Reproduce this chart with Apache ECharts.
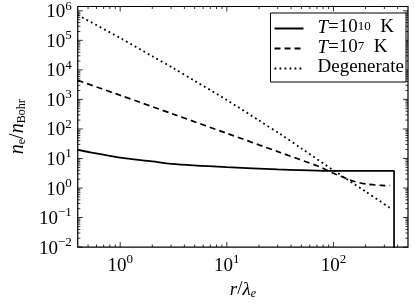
<!DOCTYPE html>
<html><head><meta charset="utf-8">
<script src="https://cdn.jsdelivr.net/npm/echarts@6/dist/echarts.min.js"></script>
<style>html,body{margin:0;padding:0;background:#fff}#c{width:415px;height:305px}</style>
</head><body><div id="c"></div>
<script>
// ---- data ----
const seriesNames = ['T=10^10 K', 'T=10^7 K', 'Degenerate'];
const rHot  = [0.4, 1, 2, 3, 10, 30, 70, 150, 370, 370];
const nHot  = [19.5, 10.7, 8.0, 6.6, 5.1, 4.3, 3.9, 3.8, 3.8, 0.0001];
const rWarm = [0.4, 1, 3.16, 10, 31.6, 74, 100, 128, 158, 208, 282, 340];
const nWarm = [4420, 1380, 316, 71, 16, 5.25, 3.16, 2.21, 1.66, 1.35, 1.23, 1.2];
const rDeg  = [0.4, 1, 2, 3.16, 5, 10, 20, 31.6, 50, 100, 200, 340];
const nDeg  = [7.2e5, 1.2e5, 2.9e4, 1.14e4, 4240, 955, 194, 67.6, 22, 4.0, 0.76, 0.21];
const xMajorTicks = [1, 10, 100];
const yMajorTicks = [0.01, 0.1, 1, 10, 100, 1e3, 1e4, 1e5, 1e6];
const minorMantissa = [2, 3, 4, 5, 6, 7, 8, 9];
const xDecades = [0.1, 1, 10, 100];
const yDecades = [0.01, 0.1, 1, 10, 100, 1e3, 1e4, 1e5, 1e6];
const xMin = 0.4, xMax = 500, yMin = 0.01, yMax = 1.4e6;

const FONT = 'Liberation Serif';
const zip = (a, b) => a.map((v, i) => [v, b[i]]);

const xMinorTicks = [], yMinorTicks = [];
xDecades.forEach(d => minorMantissa.forEach(m => { const v = d * m; if (v > xMin && v < xMax) xMinorTicks.push(v); }));
yDecades.forEach(d => minorMantissa.forEach(m => { const v = d * m; if (v > yMin && v < yMax) yMinorTicks.push(v); }));

function sup(v) {
  const e = Math.round(Math.log10(v));
  if (Math.abs(Math.log10(v) - e) > 1e-6) return '';
  return '{b|10}{s|' + (e < 0 ? '\u2212' + (-e) : e) + '}';
}
const tickRich = {
  b: {fontFamily: FONT, fontSize: 19, color: '#000', lineHeight: 22, verticalAlign: 'bottom'},
  s: {fontFamily: FONT, fontSize: 13, color: '#000', lineHeight: 12, verticalAlign: 'top'}
};
const legendLabels = {
  'T=10^10 K': '{i|T}{n|=10}{s|10}{n|  K}',
  'T=10^7 K': '{i|T}{n|=10}{s|7}{n|  K}',
  'Degenerate': '{n|Degenerate}'
};

function tickSeries(vals, side, major) {
  const len = major ? 5 : 2.6;
  let data, size, off;
  if (side === 'b') { data = vals.map(v => [v, yMin]); size = [1, len]; off = [0, -len / 2]; }
  if (side === 't') { data = vals.map(v => [v, yMax]); size = [1, len]; off = [0, len / 2]; }
  if (side === 'l') { data = vals.map(v => [xMin, v]); size = [len, 1]; off = [len / 2, 0]; }
  if (side === 'r') { data = vals.map(v => [xMax, v]); size = [len, 1]; off = [-len / 2, 0]; }
  return {type: 'scatter', name: 'ticks' + side + (major ? 'M' : 'm'), data: data, symbol: 'rect',
    symbolSize: size, symbolOffset: off, clip: false, itemStyle: {color: '#000'}};
}

const chart = echarts.init(document.getElementById('c'));
chart.setOption({
  animation: false,
  grid: {left: 68, right: 7, top: 5, bottom: 47, show: true, borderColor: '#000', borderWidth: 1.2, containLabel: false},
  xAxis: {
    type: 'log', logBase: 10, min: xMin, max: xMax,
    axisLine: {show: false}, axisTick: {show: false}, splitLine: {show: false},
    axisLabel: {formatter: sup, rich: tickRich, margin: 6, showMinLabel: false, showMaxLabel: false},
    name: '{i|r}{n|/}{i|\u03bb}{sub|e}', nameLocation: 'middle', nameGap: 29,
    nameTextStyle: {rich: {
      i: {fontFamily: FONT, fontStyle: 'italic', fontSize: 19, color: '#000', lineHeight: 20, verticalAlign: 'top'},
      n: {fontFamily: FONT, fontSize: 19, color: '#000', lineHeight: 20, verticalAlign: 'top'},
      sub: {fontFamily: FONT, fontStyle: 'italic', fontSize: 12, color: '#000', lineHeight: 12, verticalAlign: 'bottom'}
    }}
  },
  yAxis: {
    type: 'log', logBase: 10, min: yMin, max: yMax,
    axisLine: {show: false}, axisTick: {show: false}, splitLine: {show: false},
    axisLabel: {formatter: sup, rich: tickRich, margin: 6, showMaxLabel: false},
    name: '{i|n}{sub|e}{n|/}{i|n}{sub|Bohr}', nameLocation: 'middle', nameGap: 47,
    nameTextStyle: {rich: {
      i: {fontFamily: FONT, fontStyle: 'italic', fontSize: 20, color: '#000', lineHeight: 20, verticalAlign: 'top'},
      n: {fontFamily: FONT, fontSize: 20, color: '#000', lineHeight: 20, verticalAlign: 'top'},
      sub: {fontFamily: FONT, fontSize: 12, color: '#000', lineHeight: 12, verticalAlign: 'bottom'}
    }}
  },
  legend: {
    orient: 'vertical', right: 9, top: 13, itemWidth: 29, itemHeight: 12, itemGap: 1,
    padding: [5, 2, 5, 3], borderColor: '#000', borderWidth: 1, borderRadius: 0, backgroundColor: '#fff',
    data: seriesNames, selectedMode: false,
    itemStyle: {opacity: 0, borderWidth: 0},
    formatter: n => legendLabels[n],
    textStyle: {padding: [0, 0, 0, 9], rich: {
      i: {fontFamily: FONT, fontStyle: 'italic', fontSize: 19, color: '#000', lineHeight: 17, verticalAlign: 'bottom'},
      n: {fontFamily: FONT, fontSize: 19, color: '#000', lineHeight: 17, verticalAlign: 'bottom'},
      s: {fontFamily: FONT, fontSize: 13, color: '#000', lineHeight: 10, verticalAlign: 'top'}
    }}
  },
  series: [
    {name: seriesNames[0], type: 'line', data: zip(rHot, nHot), symbol: 'none', smooth: 0.3,
      lineStyle: {color: '#000', width: 1.7, type: 'solid'}, itemStyle: {color: '#000'}},
    {name: seriesNames[1], type: 'line', data: zip(rWarm, nWarm), symbol: 'none', smooth: 0.3,
      lineStyle: {color: '#000', width: 1.7, type: [6, 4]}, itemStyle: {color: '#000'}},
    {name: seriesNames[2], type: 'line', data: zip(rDeg, nDeg), symbol: 'none', smooth: 0.3,
      lineStyle: {color: '#000', width: 1.8, type: [1.8, 3.2]}, itemStyle: {color: '#000'}},
    tickSeries(xMajorTicks, 'b', true), tickSeries(xMinorTicks, 'b', false),
    tickSeries(xMajorTicks, 't', true), tickSeries(xMinorTicks, 't', false),
    tickSeries(yMajorTicks, 'l', true), tickSeries(yMinorTicks, 'l', false),
    tickSeries(yMajorTicks, 'r', true), tickSeries(yMinorTicks, 'r', false)
  ]
});
</script></body></html>
